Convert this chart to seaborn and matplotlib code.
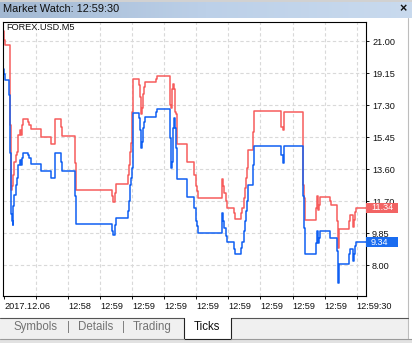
import numpy as np
import pandas as pd
import matplotlib
matplotlib.use("Agg")
import matplotlib.pyplot as plt
from matplotlib.patches import Rectangle
from matplotlib.lines import Line2D
from matplotlib.colors import LinearSegmentedColormap
import matplotlib.transforms as mtransforms
import seaborn as sns

# ---------------- data ----------------
# tick time offsets (chart units) and prices
t_px = [4.0, 4.3, 5.0, 9.3, 10.3, 11.0, 12.0, 12.7, 13.3, 14.3, 15.7, 16.7, 17.7, 18.3, 20.0,
        20.7, 21.7, 22.7, 28.3, 29.0, 31.0, 40.7, 51.0, 55.0, 60.7, 61.7, 75.0, 76.0,
        111.7, 113.0, 114.7, 115.7, 127.7, 128.7, 129.7, 130.7, 131.7, 133.0, 138.7, 139.7,
        140.7, 141.3, 142.3, 143.3, 144.3, 145.3, 156.3, 157.3, 170.3, 171.3, 172.0, 173.0,
        174.0, 175.0, 176.0, 177.3, 187.3, 194.3, 195.7, 197.0, 198.0, 222.0, 223.0, 224.3,
        226.0, 227.3, 234.3, 235.3, 241.3, 242.3, 243.7, 244.7, 245.7, 246.7, 247.7, 253.0,
        254.0, 281.3, 282.7, 283.7, 302.7, 303.3, 304.3, 305.3, 316.3, 317.3, 318.0, 319.0,
        320.0, 329.7, 330.7, 337.0, 337.7, 338.3, 338.7, 348.7, 349.7, 353.3, 354.3, 355.3,
        356.3, 365.7]
ask = [21.60, 21.06, 20.77, 20.77, 16.14, 12.39, 12.58, 12.87, 13.25, 14.02, 14.41, 14.60, 15.28, 15.57, 15.85,
       15.57, 16.14, 16.47, 16.34, 16.14, 15.89, 15.47, 15.05, 16.47, 16.05, 15.51, 13.93, 12.39,
       12.00, 11.67, 12.19, 12.71, 13.25, 13.83, 14.60, 15.08, 16.91, 18.84, 18.46, 17.78,
       17.11, 16.76, 17.11, 17.97, 18.36, 18.61, 18.84, 19.00, 17.30, 17.11, 18.26, 18.55,
       18.26, 16.91, 16.76, 15.03, 14.02, 13.25, 12.58, 12.29, 11.90, 13.00, 12.58, 12.19,
       11.71, 11.33, 11.04, 10.71, 11.04, 11.33, 11.90, 12.48, 13.06, 13.64, 14.70, 15.76,
       16.95, 16.05, 15.85, 16.91, 16.72, 12.67, 11.90, 10.65, 11.33, 12.00, 11.23, 11.52,
       11.96, 11.71, 11.52, 10.56, 9.59, 9.01, 10.13, 10.56, 10.90, 10.23, 10.65, 11.09,
       11.34, 11.34]
bid = [19.42, 19.13, 18.75, 17.88, 14.50, 11.00, 10.56, 10.36, 11.42, 12.10, 12.67, 13.06, 13.45, 13.83, 14.12,
       13.83, 14.22, 14.51, 14.41, 14.22, 13.89, 13.45, 13.06, 14.51, 14.02, 13.50, 12.00, 10.40,
       9.98, 9.73, 10.36, 10.75, 11.13, 11.71, 12.67, 13.06, 13.64, 16.82, 16.53, 15.85,
       15.08, 14.79, 15.18, 15.95, 16.34, 16.63, 16.88, 17.07, 15.37, 13.64, 14.02, 15.95,
       16.53, 15.95, 14.79, 13.02, 11.96, 11.33, 10.56, 10.27, 9.88, 11.04, 10.56, 10.17,
       9.69, 9.36, 8.97, 8.67, 9.01, 9.36, 9.98, 10.56, 11.13, 11.71, 12.67, 13.83,
       14.95, 14.41, 13.93, 14.95, 14.70, 12.00, 10.17, 8.63, 9.30, 9.98, 9.30, 9.59,
       9.98, 9.59, 9.59, 8.82, 7.57, 6.99, 8.09, 8.63, 8.97, 8.24, 8.63, 9.11,
       9.34, 9.34]

x_tick_labels = ["2017.12.06", "", "12:58", "12:59", "12:59", "12:59", "12:59", "12:59",
                 "12:59", "12:59", "12:59", "12:59:30"]
y_tick_labels = ["8.00", "9.85", "11.70", "13.60", "15.45", "17.30", "19.15", "21.00"]
tab_names = ["Symbols", "Details", "Trading", "Ticks"]
title_text = "Market Watch: 12:59:30"
symbol_text = "FOREX.USD.M5"

RED = "#f75c5c"
BLUE = "#0f5ff2"
RED_TAG = "#f26464"
BLUE_TAG = "#1a6cf0"

# ---------------- figure ----------------
W, H = 412, 343
sns.set_style("white")
plt.rcParams["font.family"] = ["Liberation Sans", "DejaVu Sans"]

fig = plt.figure(figsize=(W / 100, H / 100), dpi=100)
fig.patch.set_facecolor("white")

def fx(px):
    return px / W

def fy(py):
    return 1 - py / H

# title bar gradient
tb = fig.add_axes([0, fy(18), 1, (18 - 2) / H])
grad = np.linspace(0, 1, 256).reshape(1, -1)
cmap = LinearSegmentedColormap.from_list("tb", ["#a2b8d2", "#bcd0e8", "#c9daee"])
tb.imshow(grad, aspect="auto", cmap=cmap, extent=[0, 1, 0, 1])
tb.set_axis_off()
fig.text(fx(3), fy(9.5), title_text, fontsize=7.9, color="#101010", va="center", ha="left")
fig.text(fx(403), fy(9.5), "\u00d7", fontsize=9, fontweight="bold", color="#111111",
         va="center", ha="center")
fig.add_artist(Line2D([0, 1], [fy(0.8), fy(0.8)], color="#c8c8c8", lw=1.2))

# main axes
x0, x1 = 3.3, 365.7
y0, y1 = 21.7, 295.5
ax = fig.add_axes([fx(x0), fy(y1), (x1 - x0) / W, (y1 - y0) / H])

t = [v - 4.0 for v in t_px]
df = pd.DataFrame({
    "t": t * 2,
    "price": ask + bid,
    "side": ["ask"] * len(t) + ["bid"] * len(t),
})
sns.lineplot(data=df, x="t", y="price", hue="side", palette={"ask": RED, "bid": BLUE},
             drawstyle="steps-post", estimator=None, errorbar=None, legend=False,
             linewidth=1.1, ax=ax)

ax.set_xlim(x0 - 4.0, x1 - 4.0)
ax.set_ylim(6.247, 22.137)

xt = [32.06 * k for k in range(len(x_tick_labels))]
ax.set_xticks(xt)
ax.set_xticklabels(x_tick_labels)
for lab in ax.get_xticklabels():
    lab.set_ha("left")
yt = [8 + k * 13 / 7 for k in range(len(y_tick_labels))]
ax.set_yticks(yt)
ax.set_yticklabels(y_tick_labels)
ax.yaxis.tick_right()

ax.tick_params(axis="x", direction="out", length=2.2, width=0.7, pad=2.2,
               labelsize=6.6, colors="#111111", bottom=True)
ax.tick_params(axis="y", direction="out", length=2.0, width=0.7, pad=2.6,
               labelsize=6.6, colors="#111111", right=True, left=False)
ax.set_xlabel("")
ax.set_ylabel("")

ax.grid(True, color="#d9d9d9", linestyle=(0, (3, 2.2)), linewidth=0.8)
ax.get_xgridlines()[0].set_visible(False)
for s in ax.spines.values():
    s.set_color("black")
    s.set_linewidth(0.8)

ax.text((6.7 - x0) / (x1 - x0), (y1 - 27.3) / (y1 - y0), symbol_text, transform=ax.transAxes,
        fontsize=6.6, color="#111111", ha="left", va="center")

# price tags
blend = mtransforms.blended_transform_factory(ax.transAxes, ax.transData)
tag_w = (398 - x1) / (x1 - x0)
tag_h = 10 / 17.23
for val, col in [(ask[-1], RED_TAG), (bid[-1], BLUE_TAG)]:
    ax.add_patch(Rectangle((1.0, val - tag_h / 2), tag_w, tag_h, transform=blend,
                           facecolor=col, edgecolor="none", clip_on=False, zorder=5))
    ax.text((371 - x0) / (x1 - x0), val, f"{val:.2f}", transform=blend, fontsize=6.6,
            color="white", ha="left", va="center", zorder=6, clip_on=False)

# window right border
fig.add_artist(Line2D([fx(407.8), fx(407.8)], [fy(18), fy(338.5)], color="#bdbdbd", lw=0.8))

# bottom tab strip
fig.add_artist(Rectangle((0, fy(338.5)), fx(407.5), (338.5 - 317.7) / H, transform=fig.transFigure,
                         facecolor="#f0f0f0", edgecolor="none"))
fig.add_artist(Rectangle((fx(184), fy(338.5)), (231 - 184) / W, (338.5 - 317.7) / H,
                         transform=fig.transFigure, facecolor="white", edgecolor="none"))
fig.add_artist(Line2D([0, fx(184)], [fy(317.7), fy(317.7)], color="#555555", lw=0.8))
fig.add_artist(Line2D([fx(231), fx(407.8)], [fy(317.7), fy(317.7)], color="#555555", lw=0.8))
fig.add_artist(Line2D([fx(184), fx(184), fx(231), fx(231)],
                      [fy(317.7), fy(338.5), fy(338.5), fy(317.7)], color="#222222", lw=0.8))
fig.add_artist(Rectangle((0, 0), 1, (343 - 338.8) / H, transform=fig.transFigure,
                         facecolor="#e2e2e2", edgecolor="none"))
fig.add_artist(Line2D([0, fx(184)], [fy(338.8), fy(338.8)], color="#9a9a9a", lw=0.8))
fig.add_artist(Line2D([fx(231), 1], [fy(338.8), fy(338.8)], color="#9a9a9a", lw=0.8))

tab_y = fy(327)
tab_x = [13, 78, 133, 194]
for name, xp in zip(tab_names, tab_x):
    col = "#111111" if name == "Ticks" else "#737373"
    fig.text(fx(xp), tab_y, name, fontsize=8.3, color=col, ha="left", va="center")
for xp in [68.3, 123]:
    fig.text(fx(xp), tab_y, "|", fontsize=8.3, color="#737373", ha="center", va="center")

fig.savefig("out.png", dpi=100)
